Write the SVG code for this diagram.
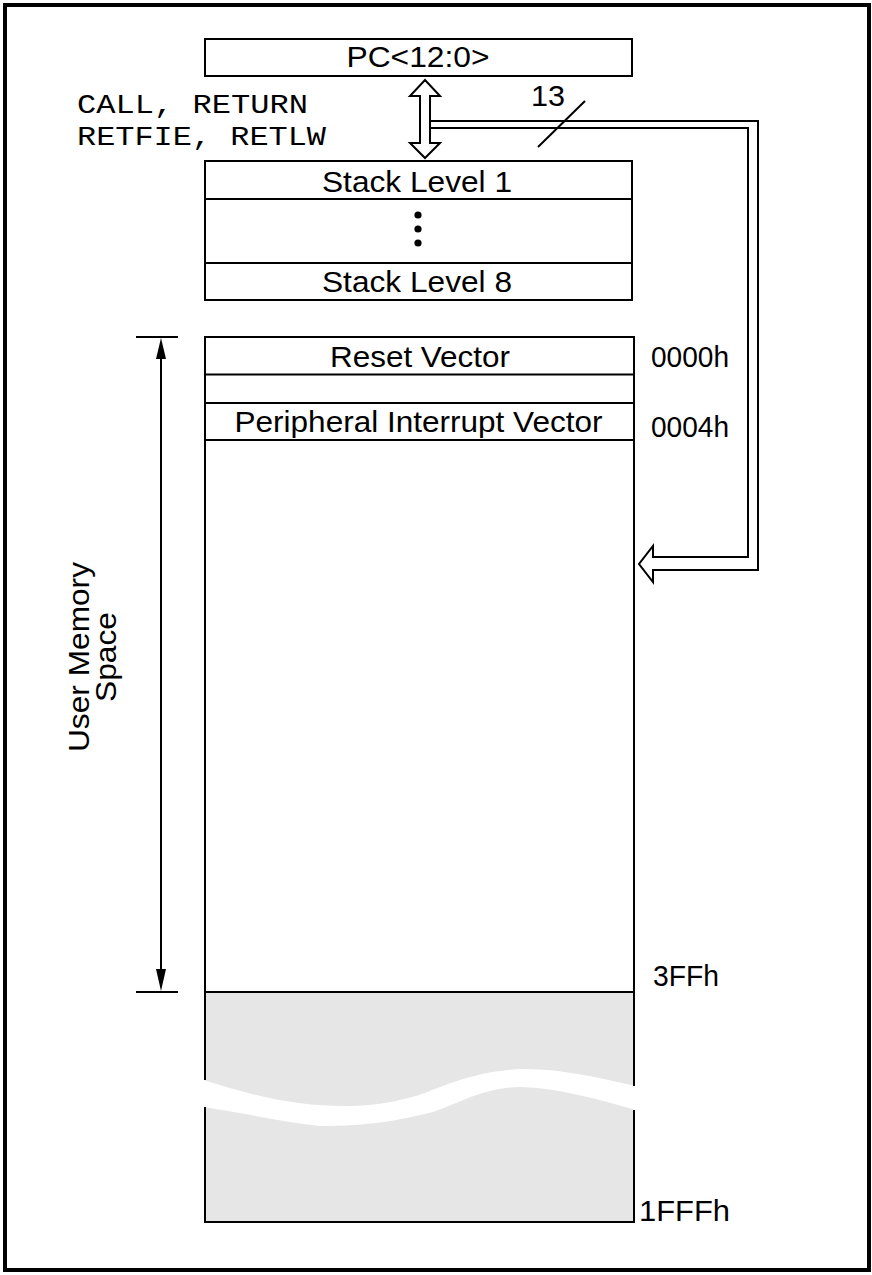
<svg xmlns="http://www.w3.org/2000/svg" width="872" height="1275" viewBox="0 0 872 1275">
<style>
.t{font-family:"Liberation Sans",Arial,sans-serif;font-size:29px;fill:#000}
.m{font-family:"Liberation Mono","Courier New",monospace;font-size:28px;fill:#000}
.b{fill:#fff;stroke:#000;stroke-width:2}
.l{stroke:#000;stroke-width:2;fill:none}
</style>
<rect x="0" y="0" width="872" height="1275" fill="#fff"/>
<rect x="5" y="5" width="864" height="1265" fill="none" stroke="#000" stroke-width="4"/>

<g id="pc">
<rect class="b" x="205" y="39" width="427" height="37"/>
<text class="t" x="418" y="67" text-anchor="middle" textLength="143" lengthAdjust="spacingAndGlyphs">PC&lt;12:0&gt;</text>
</g>

<g id="instr">
<text class="m" x="77" y="113" textLength="231" lengthAdjust="spacingAndGlyphs">CALL, RETURN</text>
<text class="m" x="77" y="145" textLength="249" lengthAdjust="spacingAndGlyphs">RETFIE, RETLW</text>
</g>

<g id="stack">
<rect class="b" x="205" y="161" width="427" height="139"/>
<line class="l" x1="205" y1="199" x2="632" y2="199"/>
<line class="l" x1="205" y1="263" x2="632" y2="263"/>
<text class="t" x="417" y="192" text-anchor="middle" textLength="190" lengthAdjust="spacingAndGlyphs">Stack Level 1</text>
<circle cx="418" cy="215" r="3.6" fill="#000"/>
<circle cx="418" cy="229" r="3.6" fill="#000"/>
<circle cx="418" cy="243" r="3.6" fill="#000"/>
<text class="t" x="417" y="292" text-anchor="middle" textLength="190" lengthAdjust="spacingAndGlyphs">Stack Level 8</text>
</g>

<g id="memory">
<rect class="b" x="205" y="337" width="429" height="655"/>
<line class="l" x1="205" y1="374.5" x2="634" y2="374.5"/>
<line class="l" x1="205" y1="403" x2="634" y2="403"/>
<line class="l" x1="205" y1="440" x2="634" y2="440"/>
<text class="t" x="420" y="367" text-anchor="middle" textLength="180" lengthAdjust="spacingAndGlyphs">Reset Vector</text>
<text class="t" x="418.5" y="432" text-anchor="middle" textLength="368" lengthAdjust="spacingAndGlyphs">Peripheral Interrupt Vector</text>
</g>

<g id="unimpl">
<rect x="205" y="992" width="429" height="230" fill="#e6e6e6"/>
<path fill="#fff" d="M203,1080 C260,1098 300,1106 345,1106 C380,1106 400,1100 416,1096 C440,1088 470,1072 519,1069 C560,1068 600,1078 636,1086 L636,1110 C600,1100 560,1088 519,1087 C480,1088 455,1106 429,1113 C400,1120 370,1126 320,1126 C280,1122 240,1112 203,1107 Z"/>
<path class="l" d="M205,992 V1080 M205,1107 V1222 H634 V1110 M634,1086 V992 H205"/>
</g>

<g id="addresses">
<text class="t" x="651" y="366.5" textLength="78" lengthAdjust="spacingAndGlyphs">0000h</text>
<text class="t" x="651" y="436.5" textLength="78" lengthAdjust="spacingAndGlyphs">0004h</text>
<text class="t" x="653" y="986" textLength="66" lengthAdjust="spacingAndGlyphs">3FFh</text>
<text class="t" x="639" y="1221" textLength="91" lengthAdjust="spacingAndGlyphs">1FFFh</text>
</g>

<g id="user-space">
<line class="l" x1="136" y1="337" x2="178" y2="337"/>
<line class="l" x1="136" y1="992" x2="178" y2="992"/>
<line class="l" x1="161" y1="350" x2="161" y2="980"/>
<polygon points="161,338 166,359 156,359" fill="#000"/>
<polygon points="161,991 166,969 156,969" fill="#000"/>
<text class="t" transform="translate(89,657) rotate(-90)" text-anchor="middle" font-size="31" textLength="190" lengthAdjust="spacingAndGlyphs">User Memory</text>
<text class="t" transform="translate(116,657) rotate(-90)" text-anchor="middle" font-size="31" textLength="90" lengthAdjust="spacingAndGlyphs">Space</text>
</g>

<g id="connectors">
<path class="b" stroke-linejoin="miter" d="M430,121 H758 V570 H653 V582 L639,564 L653,546 V557 H748 V128 H430"/>
<polygon class="b" points="425,80 440,96 430,96 430,143 440,143 425,158 410,143 420,143 420,96 410,96"/>
<line class="l" x1="538" y1="147" x2="585" y2="101"/>
<text class="t" x="531" y="106" font-size="31" textLength="34" lengthAdjust="spacingAndGlyphs">13</text>
</g>
</svg>
